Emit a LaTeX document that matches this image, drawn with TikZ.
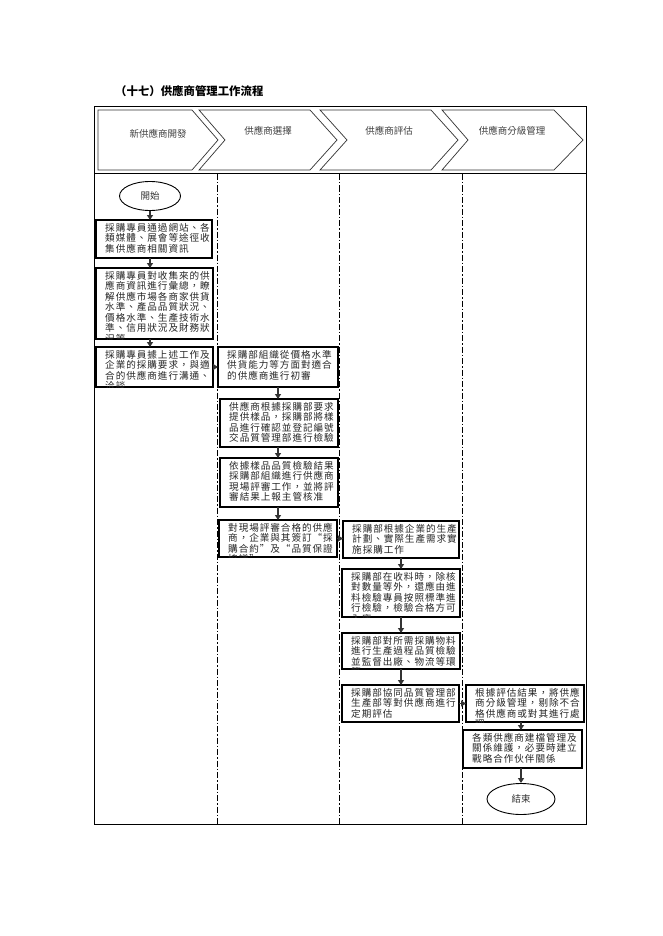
\documentclass[tikz,border=0pt]{standalone}
\usepackage{fontspec}
\newfontfamily\cjk[LetterSpace=10]{Noto Sans CJK TC}
\newfontfamily\cjkh{Noto Sans CJK TC}
\usetikzlibrary{shapes.geometric,arrows.meta}
\tikzset{
  boxst/.style={draw=black, line width=1.3pt, inner sep=0pt, outer sep=0pt},
  boxtext/.style={inner sep=0pt, align=left, font=\cjk\fontsize{9.6}{10.5}\selectfont, text=black!85},
  arr/.style={draw=black!80, line width=1.2pt, -{Triangle[width=6pt,length=5pt]}},
  lane/.style={draw=black, line width=0.9pt, dash pattern=on 6pt off 2pt on 1.5pt off 2pt},
  chev/.style={draw=black!80, line width=0.7pt},
  headtext/.style={font=\cjkh\fontsize{9.5}{11}\selectfont, text=black!75, inner sep=0pt},
  term/.style={ellipse, draw=black, line width=0.9pt, inner sep=0pt, font=\cjkh\fontsize{9.5}{11}\selectfont, text=black!80}
}
\newcommand\flowbox[6]{%
  \node[boxst, anchor=north west, minimum width={#4-#2}, minimum height={#5-#3}] (#1) at (#2,#3) {};
  \begin{scope}
    \clip (#1.north west) rectangle (#1.south east);
    \node[boxtext, anchor=north west] (#1t) at ([xshift=9pt,yshift=-3pt]#1.north west) {#6};
  \end{scope}}
\begin{document}
\begin{tikzpicture}[x=1pt,y=-1pt]
\useasboundingbox[fill=white] (0,0) rectangle (662,936);
% title
\node[anchor=west, inner sep=0pt, font=\cjkh\bfseries\fontsize{11.4}{13}\selectfont] (title) at (115,91) {（十七）供應商管理工作流程};
% frame
\draw[line width=1pt] (94,107) rectangle (586,824);
\draw[line width=1pt] (94,174) -- (586,174);
% chevrons
\draw[chev] (98,110) -- (192,110) -- (218,140) -- (192,170) -- (98,170) -- cycle;
\draw[chev] (199,110) -- (310,110) -- (337,140) -- (310,170) -- (199,170) -- (225,140) -- cycle;
\draw[chev] (320,110) -- (431,110) -- (458,140) -- (431,170) -- (320,170) -- (347,140) -- cycle;
\draw[chev] (442,110) -- (554,110) -- (583,140) -- (554,170) -- (442,170) -- (468,140) -- cycle;
\node[headtext] (h1) at (158,134) {新供應商開發};
\node[headtext] (h2) at (268,131) {供應商選擇};
\node[headtext] (h3) at (389,131) {供應商評估};
\node[headtext] (h4) at (512,131) {供應商分級管理};
% lanes
\draw[lane] (217,174) -- (217,824);
\draw[lane] (339,174) -- (339,824);
\draw[lane] (462,174) -- (462,824);
% terminals
\node[term, minimum width=61pt, minimum height=29pt] (start) at (150,196) {開始};
\node[term, minimum width=68pt, minimum height=31pt] (stop) at (521,799) {結束};
% boxes
\flowbox{b1}{96}{220}{212}{258}{採購專員通過網站、各\\類媒體、展會等途徑收\\集供應商相關資訊}
\flowbox{b2}{96}{268}{213}{339}{採購專員對收集來的供\\應商資訊進行彙總，瞭\\解供應市場各商家供貨\\水準、產品品質狀況、\\價格水準、生產技術水\\準、信用狀況及財務狀\\況等}
\flowbox{b3}{96}{347}{213}{387}{採購專員據上述工作及\\企業的採購要求，與適\\合的供應商進行溝通、\\洽談}
\flowbox{ca}{218}{347}{338}{387}{採購部組織從價格水準\\供貨能力等方面對適合\\的供應商進行初審}
\flowbox{cb}{220}{399}{338}{447}{供應商根據採購部要求\\提供樣品，採購部將樣\\品進行確認並登記編號\\交品質管理部進行檢驗}
\flowbox{cc}{220}{458}{338}{507}{依據樣品品質檢驗結果\\採購部組織進行供應商\\現場評審工作，並將評\\審結果上報主管核准}
\flowbox{cd}{219}{520}{337}{557}{對現場評審合格的供應\\商，企業與其簽訂“採\\購合約”及“品質保證\\協議”}
\flowbox{ce}{343}{521}{459}{558}{採購部根據企業的生產\\計劃、實際生產需求實\\施採購工作}
\flowbox{cf}{342}{569}{460}{617}{採購部在收料時，除核\\對數量等外，還應由進\\料檢驗專員按照標準進\\行檢驗，檢驗合格方可\\入庫}
\flowbox{cg}{342}{633}{460}{669}{採購部對所需採購物料\\進行生產過程品質檢驗\\並監督出廠、物流等環\\節}
\flowbox{ch}{342}{685}{459}{722}{採購部協同品質管理部\\生產部等對供應商進行\\定期評估}
\flowbox{ci}{466}{685}{584}{722}{根據評估結果，將供應\\商分級管理，剔除不合\\格供應商或對其進行處\\理}
\flowbox{cj}{463}{730}{582}{768}{各類供應商建檔管理及\\關係維護，必要時建立\\戰略合作伙伴關係}
% connectors
\draw[arr] (start.south) -- (start.south |- b1.north);
\draw[arr] (start.south |- b1.south) -- (start.south |- b2.north);
\draw[arr] (start.south |- b2.south) -- (start.south |- b3.north);
\draw[arr] (b3.east) -- (b3.east -| ca.west);
\draw[arr] (ca.south) -- (ca.south |- cb.north);
\draw[arr] (ca.south |- cb.south) -- (ca.south |- cc.north);
\draw[arr] (ca.south |- cc.south) -- (ca.south |- cd.north);
\draw[arr] (cd.east) -- (cd.east -| ce.west);
\draw[arr] (ce.south) -- (ce.south |- cf.north);
\draw[arr] (ce.south |- cf.south) -- (ce.south |- cg.north);
\draw[arr] (ce.south |- cg.south) -- (ce.south |- ch.north);
\draw[arr] (ch.east) -- (ch.east -| ci.west);
\draw[arr] (stop.north |- ci.south) -- (stop.north |- cj.north);
\draw[arr] (stop.north |- cj.south) -- (stop.north);
\end{tikzpicture}
\end{document}
